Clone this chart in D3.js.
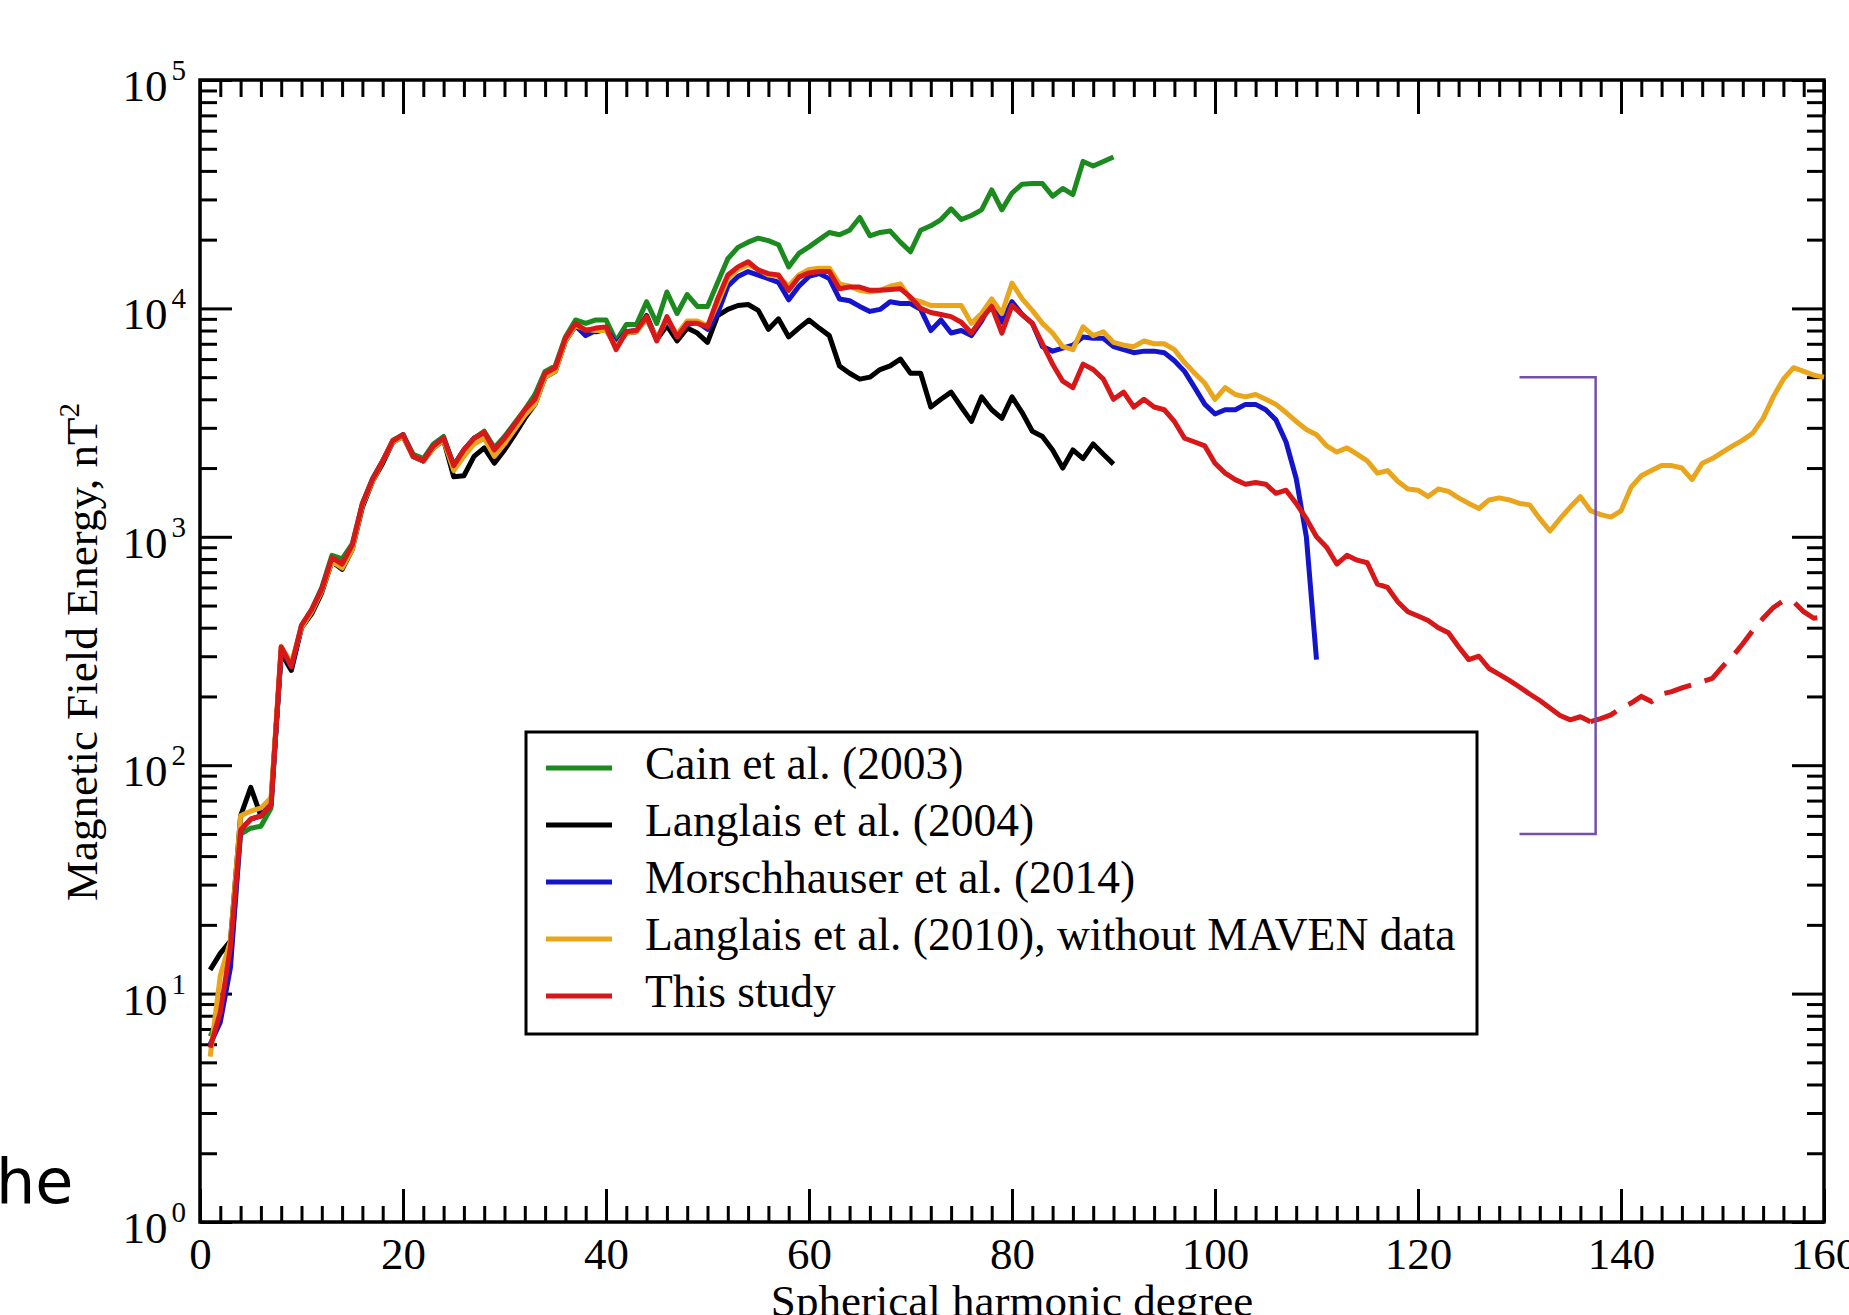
<!DOCTYPE html>
<html>
<head>
<meta charset="utf-8">
<script src="https://cdn.jsdelivr.net/npm/d3@7"></script>
<style>
  body { margin: 0; background: #fff; }
  svg text { font-family: "Liberation Serif", "Times New Roman", serif; fill: #000; }
</style>
</head>
<body>
<div id="container"></div>
<script>
// tick labels
var xTicks = [0, 20, 40, 60, 80, 100, 120, 140, 160];
var yExponents = [0, 1, 2, 3, 4, 5];

// legend
var seriesNames = ["Cain et al. (2003)", "Langlais et al. (2004)", "Morschhauser et al. (2014)",
                   "Langlais et al. (2010), without MAVEN data", "This study"];
var seriesColors = ["#1c8a1f", "#000000", "#1414cc", "#e9a51c", "#d81818"];

// energy per degree, first value is degree 1
var cain = [6.5, 8, 14, 50, 53, 54, 65, 320, 270, 410, 480, 600, 830, 800, 930, 1400, 1800, 2150, 2650, 2800,
  2300, 2200, 2550, 2750, 2050, 2400, 2700, 2900, 2450, 2750, 3150, 3600, 4200, 5300, 5600, 7500, 8900, 8600, 8900, 8900,
  7200, 8500, 8500, 10700, 8600, 11800, 9500, 11500, 10200, 10200, 13000, 16500, 18500, 19500, 20300, 19800, 19000, 15200, 17400, 18600,
  20000, 21500, 21000, 22000, 25000, 20800, 21500, 21800, 19500, 17700, 22000, 23000, 24500, 27300, 24500, 25500, 27000, 33000, 27000, 32000,
  35000, 35200, 35200, 31000, 33500, 31500, 44000, 42000, 44000, 46000];

var langlais2004 = [12.7, 15, 17, 60, 80, 60, 70, 310, 260, 400, 460, 570, 780, 720, 880, 1350, 1750, 2100, 2600, 2750,
  2250, 2150, 2450, 2650, 1830, 1850, 2250, 2450, 2100, 2400, 2800, 3300, 3800, 5000, 5300, 7200, 8400, 8000, 7900, 8100,
  6800, 7800, 7900, 9300, 7300, 8400, 7200, 8200, 7800, 7100, 9300, 9900, 10300, 10400, 9800, 8100, 9000, 7500, 8200, 8900,
  8200, 7600, 5600, 5200, 4900, 5000, 5400, 5600, 6000, 5200, 5200, 3700, 4000, 4300, 3700, 3200, 4100, 3600, 3300, 4100,
  3500, 2900, 2750, 2400, 2000, 2400, 2200, 2550, 2300, 2080];

var morschhauser = [6, 7.5, 13, 52, 58, 60, 67, 320, 270, 400, 470, 590, 800, 760, 900, 1380, 1780, 2150, 2600, 2800,
  2250, 2150, 2500, 2700, 2050, 2400, 2700, 2850, 2400, 2700, 3100, 3500, 4000, 5100, 5400, 7200, 8400, 7600, 8000, 8200,
  7000, 7900, 8000, 9000, 7400, 8800, 7600, 8500, 8700, 8100, 9500, 12500, 13800, 14500, 14000, 13500, 13000, 10900, 12500, 13800,
  14200, 13500, 11000, 10800, 10200, 9700, 9900, 10700, 10500, 10500, 9900, 8000, 8900, 7800, 8000, 7600, 8800, 10700, 8700, 10700,
  9400, 8600, 6800, 6500, 6700, 6900, 7500, 7400, 7400, 6800, 6600, 6400, 6500, 6500, 6400, 5900, 5300, 4500, 3800, 3450,
  3600, 3600, 3800, 3800, 3600, 3250, 2600, 1800, 1000, 290];

var langlais2010 = [5.3, 12, 17, 60, 63, 65, 72, 330, 280, 400, 470, 580, 780, 730, 880, 1380, 1750, 2150, 2600, 2750,
  2250, 2150, 2450, 2650, 1950, 2250, 2550, 2700, 2250, 2550, 2950, 3400, 3800, 5000, 5300, 7200, 8400, 8100, 8000, 8000,
  6800, 7800, 7900, 9000, 7400, 9000, 7700, 8800, 8800, 8400, 10500, 13500, 14800, 15500, 14800, 14000, 13800, 12500, 14000, 14800,
  15000, 15000, 12800, 12500, 12000, 11800, 12000, 12500, 12800, 11000, 10700, 10300, 10300, 10300, 10300, 8600, 9500, 11000, 9500, 12900,
  11000, 9800, 8600, 7800, 6800, 6600, 8300, 7600, 7900, 7100, 6900, 6800, 7200, 7000, 7000, 6600, 5800, 5200, 4700, 4000,
  4500, 4200, 4100, 4200, 4000, 3800, 3500, 3200, 2950, 2800, 2500, 2350, 2450, 2300, 2150, 1900, 1950, 1750, 1620, 1600,
  1500, 1620, 1580, 1480, 1400, 1330, 1450, 1480, 1450, 1400, 1380, 1200, 1060, 1200, 1350, 1500, 1300, 1250, 1220, 1300,
  1650, 1850, 1950, 2050, 2050, 2000, 1780, 2100, 2200, 2350, 2500, 2650, 2850, 3300, 4100, 4900, 5500, 5300, 5100, 5000];

var thisStudy = [5.8, 8.3, 16, 52, 58, 60, 67, 330, 270, 410, 480, 590, 810, 760, 920, 1400, 1780, 2150, 2630, 2800,
  2250, 2150, 2500, 2700, 2050, 2400, 2700, 2870, 2400, 2700, 3100, 3600, 4000, 5200, 5500, 7400, 8600, 8000, 8200, 8300,
  6600, 7900, 8000, 9200, 7200, 9200, 7500, 8600, 8600, 8300, 11000, 14000, 15200, 16000, 14700, 14200, 14000, 12000, 13700, 14300,
  14500, 14500, 12200, 12400, 12400, 12000, 12000, 12100, 12200, 11200, 10000, 9600, 9400, 9200, 8700, 7800, 9000, 10200, 7800, 10300,
  9400, 8600, 7000, 5700, 4800, 4500, 5700, 5400, 4900, 4000, 4300, 3700, 4000, 3700, 3600, 3200, 2700, 2600, 2500, 2100,
  1900, 1780, 1700, 1730, 1700, 1550, 1600, 1400, 1200, 1000, 900, 760, 830, 790, 770, 620, 600, 520, 470, 450,
  430, 400, 380, 330, 290, 300, 265, 250, 235, 220, 205, 192, 178, 165, 158, 163, 155];

// dashed continuation, degrees 137-160
var thisStudyDashed = [155, 160, 166, 178, 187, 200, 190, 205, 210, 218, 225, 232, 240, 270, 300, 340, 390, 440,
  490, 525, 520, 470, 440, 445];

// bracket: degree range and energy range
var bracketDeg = [130, 137.5];
var bracketEnergy = [50, 5000];

var width = 1849, height = 1315;
var svg = d3.select("#container").append("svg")
    .attr("width", width)
    .attr("height", height);

var x = d3.scaleLinear().domain([0, 160]).range([200, 1824]);
var y = d3.scaleLog().domain([1, 1e5]).range([1222, 80]);

var xMinor = d3.range(0, 161, 2).filter(function(d) { return d % 20 !== 0; });
var yMajor = yExponents.map(function(e) { return Math.pow(10, e); });
var yMinor = [];
yExponents.slice(0, -1).forEach(function(e) {
  for (var k = 2; k <= 9; k++) yMinor.push(k * Math.pow(10, e));
});

function styleAxis(g) {
  g.select(".domain").remove();
  g.selectAll(".tick line").attr("stroke", "#000").attr("stroke-width", 3);
}

// x axes
svg.append("g").attr("transform", "translate(0,1222)")
  .call(d3.axisBottom(x).tickValues(xMinor).tickSizeInner(-16).tickSizeOuter(0).tickFormat(""))
  .call(styleAxis);
svg.append("g").attr("transform", "translate(0,1222)")
  .call(d3.axisBottom(x).tickValues(xTicks).tickSizeInner(-33).tickSizeOuter(0).tickPadding(15))
  .call(styleAxis)
  .selectAll("text").attr("font-size", 45).attr("font-family", "Liberation Serif");
svg.append("g").attr("transform", "translate(0,80)")
  .call(d3.axisTop(x).tickValues(xMinor).tickSizeInner(-17).tickSizeOuter(0).tickFormat(""))
  .call(styleAxis);
svg.append("g").attr("transform", "translate(0,80)")
  .call(d3.axisTop(x).tickValues(xTicks).tickSizeInner(-34).tickSizeOuter(0).tickFormat(""))
  .call(styleAxis);

// y axes
svg.append("g").attr("transform", "translate(200,0)")
  .call(d3.axisLeft(y).tickValues(yMinor).tickSizeInner(-17).tickSizeOuter(0).tickFormat(""))
  .call(styleAxis);
svg.append("g").attr("transform", "translate(200,0)")
  .call(d3.axisLeft(y).tickValues(yMajor).tickSizeInner(-32).tickSizeOuter(0).tickFormat(""))
  .call(styleAxis);
svg.append("g").attr("transform", "translate(1824,0)")
  .call(d3.axisRight(y).tickValues(yMinor).tickSizeInner(-17).tickSizeOuter(0).tickFormat(""))
  .call(styleAxis);
svg.append("g").attr("transform", "translate(1824,0)")
  .call(d3.axisRight(y).tickValues(yMajor).tickSizeInner(-32).tickSizeOuter(0).tickFormat(""))
  .call(styleAxis);

// y tick labels 10^n
var ylab = svg.append("g").selectAll("text")
  .data(yExponents).enter().append("text")
  .attr("x", 186)
  .attr("y", function(e) { return y(Math.pow(10, e)) + 21; })
  .attr("text-anchor", "end")
  .attr("font-size", 45)
  .text("10");
ylab.append("tspan")
  .attr("dx", 4)
  .attr("dy", -21)
  .attr("font-size", 29)
  .text(function(e) { return e; });

// frame
svg.append("rect")
  .attr("x", 200).attr("y", 80)
  .attr("width", 1624).attr("height", 1142)
  .attr("fill", "none").attr("stroke", "#000").attr("stroke-width", 3.5);

// curves
var line = d3.line()
  .x(function(d) { return x(d[0]); })
  .y(function(d) { return y(d[1]); });

function toPoints(vals, start) {
  return vals.map(function(v, i) { return [start + i, v]; });
}

var allSeries = [cain, langlais2004, morschhauser, langlais2010, thisStudy];
var plot = svg.append("g");
plot.selectAll("path.series")
  .data(allSeries).enter().append("path")
  .attr("class", "series")
  .attr("d", function(d) { return line(toPoints(d, 1)); })
  .attr("fill", "none")
  .attr("stroke", function(d, i) { return seriesColors[i]; })
  .attr("stroke-width", 5)
  .attr("stroke-linejoin", "round");

plot.append("path")
  .attr("d", line(toPoints(thisStudyDashed, 137)))
  .attr("fill", "none")
  .attr("stroke", seriesColors[4])
  .attr("stroke-width", 5)
  .attr("stroke-dasharray", "28,14");

// bracket
svg.append("path")
  .attr("d", d3.line()([
    [x(bracketDeg[0]), y(bracketEnergy[1])],
    [x(bracketDeg[1]), y(bracketEnergy[1])],
    [x(bracketDeg[1]), y(bracketEnergy[0])],
    [x(bracketDeg[0]), y(bracketEnergy[0])]
  ]))
  .attr("fill", "none")
  .attr("stroke", "#7450aa")
  .attr("stroke-width", 2.5);

// legend
var legend = svg.append("g");
legend.append("rect")
  .attr("x", 526).attr("y", 732)
  .attr("width", 951).attr("height", 302)
  .attr("fill", "#fff").attr("stroke", "#000").attr("stroke-width", 3);
var item = legend.selectAll("g.item")
  .data(seriesNames).enter().append("g")
  .attr("class", "item")
  .attr("transform", function(d, i) { return "translate(0," + (779 + i * 57) + ")"; });
item.append("line")
  .attr("x1", 546).attr("x2", 612)
  .attr("y1", -11).attr("y2", -11)
  .attr("stroke", function(d, i) { return seriesColors[i]; })
  .attr("stroke-width", 5);
item.append("text")
  .attr("x", 645).attr("y", 0)
  .attr("font-size", 45.5)
  .text(function(d) { return d; });

// axis titles
var yt = svg.append("text")
  .attr("transform", "translate(97,652) rotate(-90)")
  .attr("text-anchor", "middle")
  .attr("font-size", 45)
  .text("Magnetic Field Energy, nT");
yt.append("tspan").attr("dy", -18).attr("font-size", 29).text("2");

svg.append("text")
  .attr("x", 1012).attr("y", 1316)
  .attr("text-anchor", "middle")
  .attr("font-size", 45)
  .text("Spherical harmonic degree");

// slide text fragment at lower left
svg.append("text")
  .attr("x", -4).attr("y", 1203)
  .style("font-family", "'DejaVu Sans', Verdana, sans-serif")
  .attr("font-size", 62)
  .text("he");
</script>
</body>
</html>
